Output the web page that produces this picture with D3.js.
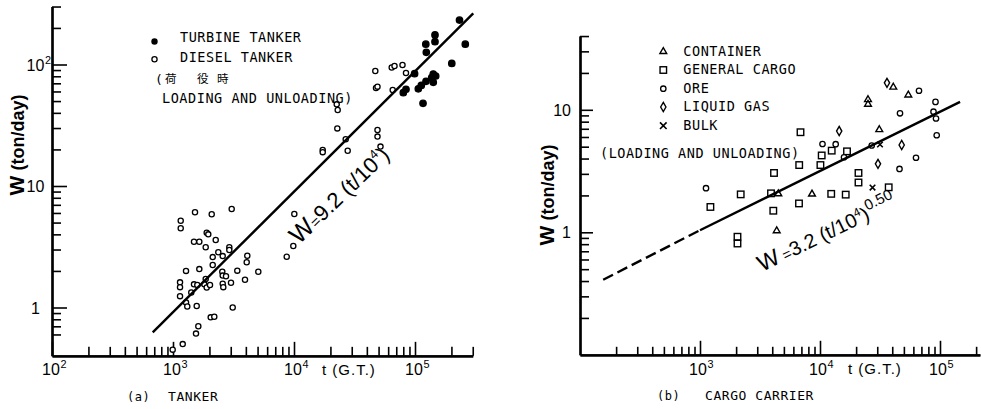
<!DOCTYPE html>
<html><head><meta charset="utf-8">
<script src="https://cdn.jsdelivr.net/npm/d3@7"></script>
<style>body{margin:0;background:#fff;} svg{display:block;}</style>
</head><body>
<script>
// ---------- DATA (t = G.T., W = ton/day) ----------
const dieselTanker = [
 [1520,6.08],[2089,5.85],[3055,6.47],[1158,5.18],[1158,4.49],[1899,4.13],[1957,4.00],[1491,3.48],[1650,3.48],[2254,3.59],
 [1863,3.13],[2920,3.13],[2920,2.97],[2368,2.85],[2575,2.65],[2129,2.60],[4112,2.67],[4065,2.36],[2129,2.24],[1650,2.07],
 [1281,2.00],[2555,1.97],[3399,2.01],[5070,1.97],[2575,1.83],[2742,1.81],[1863,1.72],[3936,1.69],[1143,1.61],[1143,1.47],
 [1491,1.55],[1588,1.53],[1814,1.55],[1899,1.46],[2022,1.53],[2575,1.57],[2604,1.47],[3015,1.60],[1416,1.33],[1143,1.24],
 [1281,1.10],[1312,1.02],[1570,1.03],[3114,1.00],[2049,0.83],[2194,0.84],[1619,0.70],[1549,0.61],[1203,0.50],[994,0.45],
 [8705,2.62],[9867,3.21],[10060,5.88],
 [17270,19.8],[17270,19.0],[27780,19.5],[26750,24.3],[22800,29.8],[22970,42.2],[22540,47.0],
 [47610,64.1],[48980,65.7],[46980,88.4],[48980,28.9],[48980,25.5],[51860,21.1],
 [65420,61.7],[64190,94.5],[67710,97.2],[78830,99.1],[84240,85.1]
];
const turbineTanker = [
 [233200,232],[146300,175],[122850,147],[146300,154],[260400,147],[124000,126],[201400,102],[99240,84],
 [141600,83.5],[148300,80.4],[137400,77.9],[123300,72.7],[141600,71.4],[112700,67.2],[106500,63.1],
 [84240,62.5],[80050,58.6],[116500,47.9]
];
const tankerLineT = [680, 303000];
const tankerLineW = [0.625, 264];

const container = [[4493,2.06],[4357,1.03],[8577,2.05],[25120,12.1],[25120,11.1],[31200,6.88],[40820,15.3],[54430,13.2]];
const generalCargo = [
 [6879,6.56],[10330,4.24],[12520,4.64],[6709,3.54],[10080,3.54],[4138,3.05],[2184,2.04],[3906,2.08],[12400,2.06],
 [1221,1.61],[6683,1.72],[4082,1.50],[2053,0.92],[2053,0.81],[16790,4.58],[20930,3.05],[20930,2.55],[37360,2.33],[16380,2.03]
];
const ore = [
 [1122,2.29],[10490,5.26],[13510,5.24],[15850,4.10],[26970,5.11],[46420,9.36],[66830,14.3],[45970,3.29],
 [63100,4.06],[91730,11.6],[88270,9.65],[92620,8.49],[93860,6.20]
];
const liquidGas = [[14450,6.71],[30430,3.62],[36160,16.6],[47950,5.16]];
const bulk = [[31620,5.21],[27390,2.32]];
const cargoDashT = [156, 1000];
const cargoDashW = [0.41, 1.04];
const cargoLineT = [1000, 147000];
const cargoLineW = [1.04, 11.6];

const tankerXMajor = [100, 1000, 10000, 100000];
const tankerXLabels = [["10","2"],["10","3"],["10","4"],["10","5"]];
const tankerYMajor = [1, 10, 100];
const tankerYLabels = [["1",""],["10",""],["10","2"]];
const cargoXMajor = [1000, 10000, 100000];
const cargoXLabels = [["10","3"],["10","4"],["10","5"]];
const cargoYMajor = [1, 10];
const cargoYLabels = [["1",""],["10",""]];
const tankerLegend = ["TURBINE TANKER", "DIESEL TANKER"];
const cargoLegend = ["CONTAINER", "GENERAL CARGO", "ORE", "LIQUID GAS", "BULK"];

// ---------- DRAWING ----------
const W = 981, H = 409;
const svg = d3.select("body").append("svg").attr("width", W).attr("height", H);
svg.append("rect").attr("width", W).attr("height", H).attr("fill", "#fff");

const MONO = "'DejaVu Sans Mono', monospace";
const SANS = "'Liberation Sans', Arial, sans-serif";

function minorTicks(lo, hi, minVal) {
  const out = [];
  for (let e = -2; e <= 6; e++) for (let d = 2; d <= 9; d++) {
    const v = d * Math.pow(10, e);
    if (v >= lo * 0.999 && v <= hi * 1.001 && v >= minVal) out.push(+v.toPrecision(3));
  }
  return out;
}

function drawAxes(x, y, cfg) {
  const [x0] = x.domain(), [y0] = y.domain();
  const gx = svg.append("g").attr("transform", `translate(0,${y(y0)})`);
  gx.call(d3.axisBottom(x).tickValues(minorTicks(...x.domain(), 0)).tickSize(-cfg.xMinor).tickSizeOuter(0).tickFormat(""));
  const gx2 = svg.append("g").attr("transform", `translate(0,${y(y0)})`);
  gx2.call(d3.axisBottom(x).tickValues(cfg.xMajor).tickSize(-cfg.xMajorLen).tickSizeOuter(0).tickFormat(""));
  const gy = svg.append("g").attr("transform", `translate(${x(x0)},0)`);
  gy.call(d3.axisLeft(y).tickValues(minorTicks(...y.domain(), cfg.yMinMinor)).tickSize(-cfg.yMinor).tickSizeOuter(0).tickFormat(""));
  const gy2 = svg.append("g").attr("transform", `translate(${x(x0)},0)`);
  gy2.call(d3.axisLeft(y).tickValues(cfg.yMajor).tickSize(-cfg.yMajorLen).tickSizeOuter(0).tickFormat(""));
  [gx, gx2, gy, gy2].forEach(g => {
    g.selectAll(".tick line").attr("stroke", "#000").attr("stroke-width", 1.6);
    g.select(".domain").attr("stroke", "#000").attr("stroke-width", 2.2);
  });
}

function powerLabel(xc, yb, parts, anchor, size) {
  const t = svg.append("text").attr("x", xc).attr("y", yb).attr("font-family", SANS)
    .attr("font-size", size).attr("text-anchor", anchor).text(parts[0]);
  const w = t.node().getComputedTextLength();
  if (parts[1]) {
    const xr = anchor === "middle" ? xc + w / 2 : (anchor === "end" ? xc : xc + w);
    svg.append("text").attr("x", xr + 0.5).attr("y", yb - 7).attr("font-family", SANS)
      .attr("font-size", size * 0.68).text(parts[1]);
  }
}

function monoText(x, y, s, size) {
  return svg.append("text").attr("x", x).attr("y", y).attr("font-family", MONO)
    .attr("font-size", size || 13).attr("letter-spacing", 0.55).attr("dominant-baseline", "middle").text(s);
}

// markers
function circles(data, x, y, filled, r) {
  svg.append("g").selectAll("circle").data(data).join("circle")
    .attr("cx", d => x(d[0])).attr("cy", d => y(d[1])).attr("r", r)
    .attr("fill", filled ? "#000" : "#fff").attr("stroke", "#000").attr("stroke-width", 1.3);
}
function symbols(data, x, y, type, size, fill, sw) {
  svg.append("g").selectAll("path").data(data).join("path")
    .attr("transform", d => `translate(${x(d[0])},${y(d[1])})`)
    .attr("d", d3.symbol().type(type).size(size)())
    .attr("fill", fill).attr("stroke", "#000").attr("stroke-width", sw || 1.4);
}
function squares(data, x, y, s) {
  svg.append("g").selectAll("rect").data(data).join("rect")
    .attr("x", d => x(d[0]) - s / 2).attr("y", d => y(d[1]) - s / 2).attr("width", s).attr("height", s)
    .attr("fill", "none").attr("stroke", "#000").attr("stroke-width", 1.4);
}

// ===== (a) TANKER =====
const xL = d3.scaleLog().domain([100, 300000]).range([52, 52 + 121 * Math.log10(3000)]);
const yL = d3.scaleLog().domain([0.4, 300]).range([307.5 + 121.5 * Math.log10(2.5), 307.5 - 121.5 * Math.log10(300)]);
drawAxes(xL, yL, { xMajor: tankerXMajor, xMinor: 9, xMajorLen: 14, yMajor: tankerYMajor, yMinor: 9, yMajorLen: 15, yMinMinor: 0.55 });

tankerXMajor.forEach((v, i) => powerLabel(xL(v) - 1, 375, tankerXLabels[i], "middle", 16));
tankerYMajor.forEach((v, i) => powerLabel(35.5, yL(v) + 6, tankerYLabels[i], "middle", 16));

svg.append("text").attr("x", 322).attr("y", 375).attr("font-family", SANS).attr("font-size", 15)
  .attr("letter-spacing", 1).text("t (G.T.)");
svg.append("text").attr("transform", "translate(24,145) rotate(-90)").attr("text-anchor", "middle")
  .attr("font-family", SANS).attr("font-size", 18).attr("font-weight", "bold")
  .html('<tspan font-size="21">W</tspan> (ton/day)');
monoText(127, 397, "(a)", 12);
monoText(168, 397, "TANKER", 13);

const line = (tx, wy, x, y) => d3.line().x((d, i) => x(d)).y((d, i) => y(wy[i]))(tx);
circles(dieselTanker, xL, yL, false, 2.6);
circles(turbineTanker, xL, yL, true, 3.2);
svg.append("path").attr("d", line(tankerLineT, tankerLineW, xL, yL))
  .attr("fill", "none").attr("stroke", "#000").attr("stroke-width", 2.4);

// legend (a)
svg.append("circle").attr("cx", 154.5).attr("cy", 41.5).attr("r", 3.2).attr("fill", "#000");
svg.append("circle").attr("cx", 154.5).attr("cy", 59.3).attr("r", 2.6).attr("fill", "#fff").attr("stroke", "#000").attr("stroke-width", 1.3);
monoText(180, 37.5, tankerLegend[0], 13.5);
monoText(180, 57.5, tankerLegend[1], 13.5);
const jp = svg.append("text").attr("y", 80).attr("dominant-baseline", "middle").attr("font-size", 11.5);
jp.append("tspan").attr("x", 155).attr("font-family", MONO).attr("font-size", 13).text("(");
jp.append("tspan").attr("x", 165).attr("font-family", "'Noto Sans CJK JP'").text("荷");
jp.append("tspan").attr("x", 197).attr("font-family", "'Noto Sans CJK JP'").text("役");
jp.append("tspan").attr("x", 217).attr("font-family", "'Noto Sans CJK JP'").text("時");
monoText(162, 99, "LOADING AND UNLOADING)", 13.5);

// equation (a)
svg.append("text").attr("transform", "translate(299,245) rotate(-44)")
  .attr("font-family", SANS).attr("font-size", 22)
  .html('<tspan font-size="25">W</tspan><tspan font-size="15">=</tspan>9.2 (t/10<tspan font-size="13" dy="-9">4</tspan><tspan dy="9">)</tspan>');

// ===== (b) CARGO CARRIER =====
const xR = d3.scaleLog().domain([100, 215000]).range([580, 580 + 120 * Math.log10(2150)]);
const yR = d3.scaleLog().domain([0.1, 40]).range([232.3 + 122.5, 232.3 - 122.5 * Math.log10(40)]);
drawAxes(xR, yR, { xMajor: cargoXMajor, xMinor: 8, xMajorLen: 14, yMajor: cargoYMajor, yMinor: 9, yMajorLen: 13, yMinMinor: 0 });

cargoXMajor.forEach((v, i) => powerLabel(xR(v) - 2, 375, cargoXLabels[i], "middle", 16));
cargoYMajor.forEach((v, i) => powerLabel(571, yR(v) + 6, cargoYLabels[i], "end", 16));

svg.append("text").attr("x", 848).attr("y", 374).attr("font-family", SANS).attr("font-size", 15)
  .attr("letter-spacing", 1).text("t (G.T.)");
svg.append("text").attr("transform", "translate(554,195) rotate(-90)").attr("text-anchor", "middle")
  .attr("font-family", SANS).attr("font-size", 18).attr("font-weight", "bold")
  .html('<tspan font-size="21">W</tspan> (ton/day)');
monoText(657, 396, "(b)", 12);
monoText(705, 396, "CARGO CARRIER", 13);

squares(generalCargo, xR, yR, 6.5);
circles(ore, xR, yR, false, 2.7);
symbols(container, xR, yR, d3.symbolTriangle, 20, "none");
symbols(liquidGas, xR, yR, d3.symbolDiamond, 24, "none");
symbols(bulk, xR, yR, d3.symbolX, 22, "none", 1.6);

svg.append("path").attr("d", line(cargoDashT, cargoDashW, xR, yR))
  .attr("fill", "none").attr("stroke", "#000").attr("stroke-width", 2.4).attr("stroke-dasharray", "11,5");
svg.append("path").attr("d", line(cargoLineT, cargoLineW, xR, yR))
  .attr("fill", "none").attr("stroke", "#000").attr("stroke-width", 2.4);

// legend (b)
const legY = [51.5, 70, 88.7, 107, 125.7];
const legTypes = [d3.symbolTriangle, null, "circle", d3.symbolDiamond, d3.symbolX];
legY.forEach((ly, i) => {
  if (i === 1) {
    svg.append("rect").attr("x", 663.3 - 3.25).attr("y", ly - 3.25).attr("width", 6.5).attr("height", 6.5)
      .attr("fill", "none").attr("stroke", "#000").attr("stroke-width", 1.4);
  } else if (i === 2) {
    svg.append("circle").attr("cx", 663.3).attr("cy", ly).attr("r", 2.7).attr("fill", "none").attr("stroke", "#000").attr("stroke-width", 1.3);
  } else {
    const sz = [20, 0, 0, 24, 30][i];
    svg.append("path").attr("transform", `translate(663.3,${ly})`).attr("d", d3.symbol().type(legTypes[i]).size(sz)())
      .attr("fill", "none").attr("stroke", "#000").attr("stroke-width", i === 4 ? 1.6 : 1.4);
  }
  monoText(683.3, ly, cargoLegend[i], 13.5);
});
monoText(600, 154, "(LOADING AND UNLOADING)", 13.5);

// equation (b)
svg.append("text").attr("transform", "translate(762,272) rotate(-26)")
  .attr("font-family", SANS).attr("font-size", 20)
  .html('<tspan font-size="23">W</tspan><tspan font-size="15"> =</tspan>3.2 (t/10<tspan font-size="12" dy="-8">4</tspan><tspan dy="8">)</tspan><tspan font-size="15" dy="-9">0.50</tspan>');
</script>
</body></html>
